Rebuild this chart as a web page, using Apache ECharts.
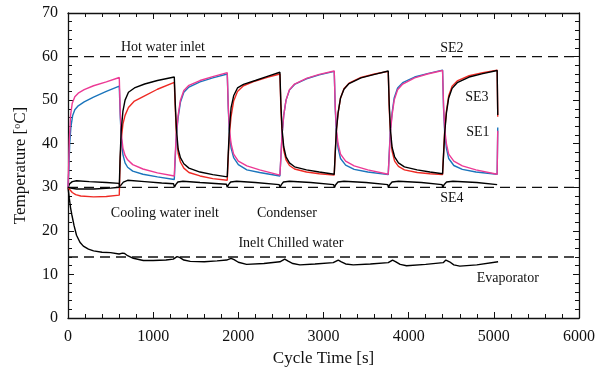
<!DOCTYPE html>
<html>
<head>
<meta charset="utf-8">
<script src="https://cdn.jsdelivr.net/npm/echarts@6/dist/echarts.min.js"></script>
<style>
  html, body { margin: 0; padding: 0; background: #fff; }
  #chart { width: 605px; height: 372px; }
</style>
</head>
<body>
<div id="chart"></div>
<script>
// values: [cycle time s, temperature °C]
const se1 = [
  [0,30],[10,34],[20,40],[35,44],[55,46.5],[80,47.8],[120,48.7],[190,49.6],[300,50.7],[450,52],[602,53.2],
  [614,46],[627,41],[645,37.5],[670,35.6],[700,34.6],[760,33.7],[880,33],[1050,32.4],[1248,31.8],
  [1260,37],[1273,42],[1293,46],[1320,49.5],[1360,51.8],[1420,53],[1550,54.2],[1700,55.1],[1870,56.0],
  [1882,48],[1895,42.5],[1915,39],[1945,36.8],[2000,35.2],[2100,34.0],[2250,33.4],[2488,32.6],
  [2500,37],[2513,42],[2533,46.5],[2560,50],[2600,52.3],[2660,53.6],[2800,54.9],[2950,55.8],[3126,56.6],
  [3138,48],[3151,42.5],[3171,39],[3200,36.6],[3260,35.1],[3360,34.1],[3520,33.5],[3760,32.9],
  [3772,38],[3785,43],[3805,47],[3830,50.5],[3870,52.8],[3930,54],[4070,55.3],[4220,56.1],[4398,56.9],
  [4410,48],[4423,42.5],[4443,39],[4470,36.6],[4530,35.0],[4630,34.1],[4790,33.5],[5039,33.0],
  [5046,43.7]
];
const sePink = [
  [0,30],[8,35],[16,41],[30,46.5],[50,49.3],[80,50.8],[120,51.6],[190,52.4],[300,53.3],[450,54.2],[602,55.2],
  [614,47],[627,42],[645,39],[670,37.3],[700,36.3],[760,35.2],[880,34.2],[1050,33.3],[1248,32.6],
  [1260,38],[1273,42.5],[1293,46.5],[1320,50],[1360,52.2],[1420,53.4],[1550,54.5],[1700,55.4],[1870,56.3],
  [1882,48.5],[1895,43.4],[1915,40],[1945,37.6],[2000,36.0],[2100,34.9],[2250,34.0],[2488,32.8],
  [2500,37],[2513,42],[2533,46.5],[2560,50],[2600,52.4],[2660,53.7],[2800,55],[2950,55.9],[3126,56.7],
  [3138,48.5],[3151,43.4],[3171,40],[3200,37.6],[3260,36.0],[3360,34.9],[3520,34.0],[3760,33.0],
  [3772,37.5],[3785,42.5],[3805,46.5],[3830,50],[3870,52.4],[3930,53.7],[4070,55.1],[4220,56],[4398,56.8],
  [4410,48.5],[4423,43.4],[4443,40],[4470,37.6],[4530,36.0],[4630,34.9],[4790,34.0],[5039,33.0],
  [5046,43.0]
];
const seRed = [
  [0,30],[20,29.5],[50,28.8],[90,28.3],[150,28],[300,27.8],[450,27.9],[602,28.2],
  [612,36],[625,41],[645,44.5],[670,46.5],[710,48.3],[780,49.8],[900,51],[1050,52.5],[1248,54.1],
  [1260,48],[1273,42],[1293,37.8],[1320,35.8],[1360,34.4],[1420,33.4],[1550,32.6],[1700,32],[1870,31.6],
  [1882,37],[1895,42],[1915,46.3],[1945,49.8],[1990,52],[2060,53.3],[2200,54.4],[2350,55.3],[2488,56.0],
  [2500,48],[2513,42.5],[2533,38.5],[2560,36.3],[2600,35.0],[2660,34.2],[2800,33.5],[2950,33.1],[3126,32.8],
  [3138,38],[3151,43],[3171,47],[3200,50.5],[3240,52.6],[3300,53.9],[3440,55.2],[3600,56],[3760,56.6],
  [3772,48],[3785,42.5],[3805,38.3],[3835,36.0],[3880,34.8],[3950,34.0],[4100,33.4],[4250,33.1],[4398,32.9],
  [4410,38],[4423,43],[4443,47.5],[4470,51],[4510,53.2],[4570,54.4],[4710,55.6],[4870,56.3],[5039,56.9],
  [5046,46.2]
];
const seBlack = [
  [0,30],[30,29.8],[100,29.6],[300,29.6],[500,29.8],[602,30],
  [612,37],[625,43],[645,47.5],[670,50],[710,51.8],[780,52.8],[900,53.7],[1050,54.5],[1248,55.3],
  [1260,49],[1273,43.4],[1293,38.8],[1320,36.8],[1360,35.4],[1420,34.4],[1550,33.5],[1700,32.9],[1870,32.4],
  [1882,38],[1895,43.4],[1915,48.3],[1945,51],[1990,52.8],[2060,53.6],[2200,54.5],[2350,55.5],[2488,56.4],
  [2500,49],[2513,43.4],[2533,39.3],[2560,37.0],[2600,35.6],[2660,34.7],[2800,34.0],[2950,33.5],[3126,33.0],
  [3138,38],[3151,43],[3171,47],[3200,50.5],[3240,52.5],[3300,53.8],[3440,55.1],[3600,55.9],[3760,56.7],
  [3772,49],[3785,43.4],[3805,39.2],[3835,37.0],[3880,35.6],[3950,34.7],[4100,34.0],[4250,33.5],[4398,33.1],
  [4410,37.5],[4423,42.5],[4443,47],[4470,50.5],[4510,52.7],[4570,54],[4710,55.3],[4870,56.1],[5039,56.8],
  [5046,46.6]
];
const condenser = [
  [0,30],[20,30.8],[50,31.3],[100,31.5],[250,31.3],[450,31.1],[600,30.9],[610,30.2],[625,30.5],[650,31.2],
  [700,31.6],[900,31.3],[1100,31.0],[1240,30.8],[1250,30.0],[1265,30.6],[1290,31.2],[1350,31.4],[1550,31.1],
  [1860,30.7],[1870,30.0],[1885,30.6],[1910,31.2],[1980,31.4],[2200,31.1],[2480,30.6],[2490,30.0],[2505,30.6],
  [2530,31.2],[2600,31.4],[2850,31.1],[3120,30.6],[3128,29.9],[3143,30.6],[3170,31.2],[3240,31.4],[3500,31.1],
  [3755,30.6],[3762,29.9],[3777,30.6],[3805,31.2],[3880,31.4],[4150,31.1],[4393,30.6],[4400,29.9],[4415,30.6],
  [4445,31.2],[4520,31.4],[4800,31.1],[5039,30.6]
];
const evaporator = [
  [0,30],[15,27.5],[30,25.3],[45,23.7],[70,21.3],[100,19],[140,17.4],[180,16.5],[240,15.8],[300,15.4],
  [400,15.1],[500,15],[600,14.7],[640,14.9],[665,14.8],[700,14.3],[767,13.7],[884,13.2],[1000,13.2],[1150,13.3],
  [1236,13.5],[1280,14.1],[1310,13.9],[1360,13.3],[1436,13.0],[1600,12.9],[1750,13.1],[1862,13.3],[1915,13.7],
  [1950,13.4],[2000,12.8],[2097,12.3],[2300,12.5],[2488,12.9],[2545,13.5],[2580,13.1],[2640,12.5],[2723,12.2],
  [2900,12.4],[3114,12.7],[3173,13.3],[3210,12.9],[3260,12.4],[3349,12.2],[3550,12.4],[3760,12.7],[3811,13.3],
  [3850,12.9],[3900,12.3],[3975,12.0],[4200,12.3],[4405,12.7],[4437,13.3],[4480,12.9],[4530,12.2],[4601,11.9],
  [4800,12.2],[5050,12.9]
];
const hotWaterInlet = 60;
const coolingWaterInlet = 30;
const chilledWaterInlet = 14;
const xRange = [0, 6000];
const labels = [
  ['Hot water inlet', 1115, 62.2],
  ['SE2', 4507, 62.0],
  ['SE3', 4800, 50.7],
  ['SE1', 4812, 42.7],
  ['SE4', 4507, 27.5],
  ['Cooling water inelt', 1138, 24.1],
  ['Condenser', 2570, 24.1],
  ['Inelt Chilled water', 2617, 17.2],
  ['Evaporator', 5164, 9.0]
];

const FONT = '"Liberation Serif", "DejaVu Serif", serif';
const TXT = '#111';

function axisBase(show) {
  return {
    axisLine: { show: true, onZero: false, lineStyle: { color: '#111', width: 1.3 } },
    axisTick: { show: true, inside: true, length: 6, lineStyle: { color: '#111', width: 1 } },
    minorTick: { show: true, splitNumber: 5, length: 4, lineStyle: { color: '#111', width: 1 } },
    splitLine: { show: false },
    axisLabel: { show: show, color: TXT, fontFamily: FONT, fontSize: 16 }
  };
}

function curve(data, color) {
  return {
    type: 'line', data: data, showSymbol: false, smooth: false,
    lineStyle: { color: color, width: 1.4 }, z: 3, silent: true
  };
}
function dashed(value) {
  return {
    type: 'line', data: [[xRange[0], value], [xRange[1], value]], showSymbol: false,
    lineStyle: { color: '#111', width: 1.3, type: [10, 6] }, z: 2, silent: true
  };
}

const chart = echarts.init(document.getElementById('chart'));
chart.setOption({
  animation: false,
  backgroundColor: '#fff',
  grid: { left: 68, right: 26, top: 13, bottom: 54 },
  xAxis: [
    Object.assign(axisBase(true), {
      type: 'value', min: 0, max: 6000, interval: 1000, position: 'bottom',
      name: 'Cycle Time [s]', nameLocation: 'middle', nameGap: 30,
      nameTextStyle: { color: TXT, fontFamily: FONT, fontSize: 17 },
      axisLabel: { color: TXT, fontFamily: FONT, fontSize: 16, margin: 11, formatter: v => String(v) }
    }),
    Object.assign(axisBase(false), { type: 'value', min: 0, max: 6000, interval: 1000, position: 'top' })
  ],
  yAxis: [
    Object.assign(axisBase(true), {
      type: 'value', min: 0, max: 70, interval: 10, position: 'left',
      name: 'Temperature [{sup|o}C]', nameLocation: 'middle', nameGap: 38, nameRotate: 90,
      nameTextStyle: {
        color: TXT, fontFamily: FONT, fontSize: 17,
        rich: { sup: { fontFamily: FONT, fontSize: 10, color: TXT, verticalAlign: 'top', padding: [0, 0, 8, 0] } }
      },
      axisLabel: { color: TXT, fontFamily: FONT, fontSize: 16, margin: 10 }
    }),
    Object.assign(axisBase(false), { type: 'value', min: 0, max: 70, interval: 10, position: 'right' })
  ],
  series: [
    dashed(hotWaterInlet),
    dashed(coolingWaterInlet),
    dashed(chilledWaterInlet),
    curve(condenser, '#000'),
    curve(evaporator, '#000'),
    curve(seRed, '#ee2a24'),
    curve(se1, '#1b75bc'),
    curve(sePink, '#ec3a95'),
    curve(seBlack, '#000'),
    {
      type: 'scatter', symbolSize: 0, silent: true, z: 5,
      itemStyle: { opacity: 1 },
      data: labels.map(l => ({ value: [l[1], l[2]], name: l[0] })),
      label: {
        show: true, position: 'inside', formatter: p => p.name, opacity: 1,
        color: TXT, fontFamily: FONT, fontSize: 14, textBorderWidth: 0
      }
    }
  ]
});
</script>
</body>
</html>
